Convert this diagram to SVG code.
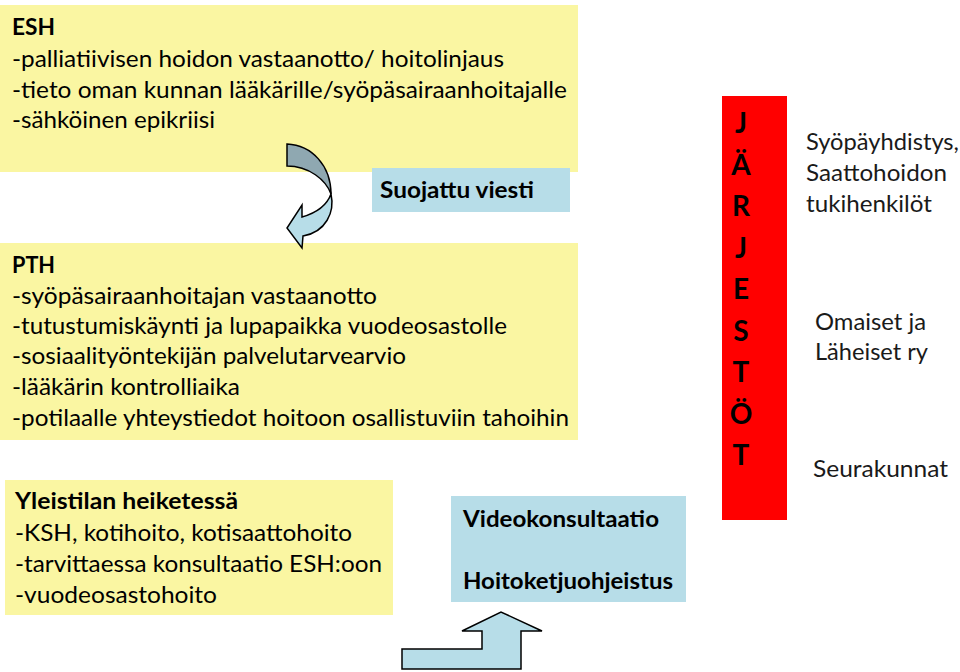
<svg xmlns="http://www.w3.org/2000/svg" width="960" height="672" viewBox="0 0 960 672">
<style>
.yel{fill:#FAF6A2}
.blu{fill:#B7DDE8}
.t{font-family:Lato,"Open Sans","Liberation Sans",sans-serif;font-size:23.5px;fill:#000}
.b{font-weight:bold}
.r{font-family:Lato,"Open Sans","Liberation Sans",sans-serif;font-size:23px;fill:#1a1a1a}
.red{font-family:Lato,"Liberation Sans",sans-serif;font-size:28px;font-weight:bold;fill:#000}
.arr{stroke:#000;stroke-width:1.5;stroke-linejoin:miter}
</style>
<rect width="960" height="672" fill="#fff"/>
<g id="esh">
<rect class="yel" x="0" y="5" width="578" height="167"/>
<text class="t b" x="12" y="35" textLength="43" lengthAdjust="spacingAndGlyphs">ESH</text>
<text class="t" x="12" y="67" textLength="492" lengthAdjust="spacingAndGlyphs">-palliatiivisen hoidon vastaanotto/ hoitolinjaus</text>
<text class="t" x="12" y="97.5" textLength="555" lengthAdjust="spacingAndGlyphs">-tieto oman kunnan lääkärille/syöpäsairaanhoitajalle</text>
<text class="t" x="12" y="127.5" textLength="203" lengthAdjust="spacingAndGlyphs">-sähköinen epikriisi</text>
</g>
<g id="suojattu">
<rect class="blu" x="372" y="168" width="198" height="44"/>
<text class="t b" x="380" y="198" textLength="154" lengthAdjust="spacingAndGlyphs">Suojattu viesti</text>
</g>
<g id="pth">
<rect class="yel" x="0" y="243" width="578" height="197"/>
<text class="t b" x="12" y="273" textLength="43" lengthAdjust="spacingAndGlyphs">PTH</text>
<text class="t" x="12" y="304" textLength="365" lengthAdjust="spacingAndGlyphs">-syöpäsairaanhoitajan vastaanotto</text>
<text class="t" x="12" y="334" textLength="495" lengthAdjust="spacingAndGlyphs">-tutustumiskäynti ja lupapaikka vuodeosastolle</text>
<text class="t" x="12" y="364" textLength="394" lengthAdjust="spacingAndGlyphs">-sosiaalityöntekijän palvelutarvearvio</text>
<text class="t" x="12" y="395" textLength="228" lengthAdjust="spacingAndGlyphs">-lääkärin kontrolliaika</text>
<text class="t" x="12" y="426" textLength="557" lengthAdjust="spacingAndGlyphs">-potilaalle yhteystiedot hoitoon osallistuviin tahoihin</text>
</g>
<g id="yleistila">
<rect class="yel" x="5" y="480" width="388" height="135"/>
<text class="t b" x="15" y="509" textLength="223" lengthAdjust="spacingAndGlyphs">Yleistilan heiketessä</text>
<text class="t" x="15" y="541" textLength="337" lengthAdjust="spacingAndGlyphs">-KSH, kotihoito, kotisaattohoito</text>
<text class="t" x="15" y="572" textLength="367" lengthAdjust="spacingAndGlyphs">-tarvittaessa konsultaatio ESH:oon</text>
<text class="t" x="15" y="603" textLength="202" lengthAdjust="spacingAndGlyphs">-vuodeosastohoito</text>
</g>
<g id="video">
<rect class="blu" x="451" y="496" width="235" height="106"/>
<text class="t b" x="463" y="527" textLength="196" lengthAdjust="spacingAndGlyphs">Videokonsultaatio</text>
<text class="t b" x="463" y="589" textLength="210" lengthAdjust="spacingAndGlyphs">Hoitoketjuohjeistus</text>
</g>
<g id="jarjestot">
<rect x="722" y="96" width="65" height="424" fill="#FF0000"/>
<text class="red" text-anchor="middle" x="741" y="133">J<tspan x="741" dy="41.5">Ä</tspan><tspan x="741" dy="41.5">R</tspan><tspan x="741" dy="41.5">J</tspan><tspan x="741" dy="41.5">E</tspan><tspan x="741" dy="41.5">S</tspan><tspan x="741" dy="41.5">T</tspan><tspan x="741" dy="41.5">Ö</tspan><tspan x="741" dy="41.5">T</tspan></text>
</g>
<g id="syopayhdistys">
<text class="r" x="806" y="150" textLength="153" lengthAdjust="spacingAndGlyphs">Syöpäyhdistys,</text>
<text class="r" x="806" y="181" textLength="141" lengthAdjust="spacingAndGlyphs">Saattohoidon</text>
<text class="r" x="806" y="212" textLength="126" lengthAdjust="spacingAndGlyphs">tukihenkilöt</text>
</g>
<g id="omaiset">
<text class="r" x="815" y="330" textLength="111" lengthAdjust="spacingAndGlyphs">Omaiset ja</text>
<text class="r" x="815" y="360" textLength="113" lengthAdjust="spacingAndGlyphs">Läheiset ry</text>
</g>
<g id="seurakunnat">
<text class="r" x="813" y="477" textLength="135" lengthAdjust="spacingAndGlyphs">Seurakunnat</text>
</g>
<g id="connectors">
<path class="arr" fill="#8FA8B1" d="M287,144 C312,145 331,166 331,194 C326,180 309,166 287,166 Z"/>
<path class="arr" fill="#B7DDE8" d="M331,194 C335,212 326,232 303,236 L302,248 L287,228 L302,205 L302,217 C316,213 327,205 331,194 Z"/>
<path class="arr" fill="#B7DDE8" d="M402,649 L482,649 L482,631 L462,631 L501,612 L542,631 L521,631 L521,669 L402,669 Z"/>
</g>
</svg>
